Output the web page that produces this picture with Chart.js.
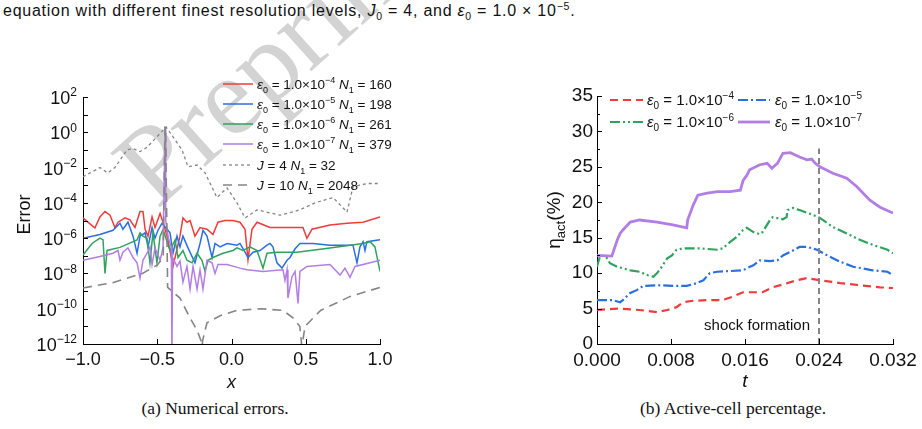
<!DOCTYPE html>
<html>
<head>
<meta charset="utf-8">
<title>Numerical errors and active-cell percentage</title>
<script src="https://cdn.jsdelivr.net/npm/chart.js@4.4.1/dist/chart.umd.min.js"></script>
<style>
  html, body { margin: 0; padding: 0; background: #fff; }
  body { width: 922px; height: 429px; position: relative; overflow: hidden; }
  .caption-top {
    position: absolute; left: 3px; top: 2px; white-space: nowrap; color: #111; z-index: 2;
    font-family: 'Liberation Sans', Arial, sans-serif; font-size: 16px; letter-spacing: 0.75px;
  }
  .caption-top sub, .caption-top sup { font-size: 10.5px; line-height: 0; }
  .subcap {
    position: absolute; top: 398px; color: #111; white-space: nowrap; transform: translateX(-50%);
    font-family: 'Liberation Serif', 'Times New Roman', serif; font-size: 17.5px;
  }
  .watermark {
    position: absolute; left: 157px; top: 116px; z-index: 0;
    font-family: 'Liberation Serif', serif; font-size: 112px; line-height: 1;
    color: #d3d3d3; transform-origin: 0 94px; transform: rotate(-42deg);
  }
  canvas { position: absolute; top: 60px; z-index: 1; }
  #errorChart { left: 0; }
  #activeChart { left: 520px; }
</style>
</head>
<body>
<div class="caption-top">equation with different finest resolution levels, <i>J</i><sub>0</sub> = 4, and <i>ε</i><sub>0</sub> = 1.0 × 10<sup>−5</sup>.</div>
<div class="watermark">Preprint</div>
<canvas id="errorChart" width="400" height="340"></canvas>
<canvas id="activeChart" width="402" height="340"></canvas>
<div class="subcap" style="left:215px">(a) Numerical errors.</div>
<div class="subcap" style="left:733px">(b) Active-cell percentage.</div>

<script>
// ---- (a) numerical errors, x in [-1, 1] ----
const xEps4 = [-1.0,-0.92,-0.886,-0.852,-0.818,-0.785,-0.764,-0.717,-0.684,-0.65,-0.616,-0.596,-0.582,-0.562,-0.535,-0.515,-0.481,-0.461,-0.428,-0.394,-0.347,-0.327,-0.3,-0.279,-0.246,-0.212,-0.165,-0.125,-0.091,-0.044,0.01,0.057,0.091,0.111,0.138,0.172,0.259,0.441,0.481,0.508,0.542,0.663,0.778,0.886,1.0];
const errEps4 = [1.4e-5,3.7e-6,1.6e-5,3.2e-5,2e-5,4e-6,8e-6,1.4e-5,1.1e-5,4e-6,3.2e-5,3.2e-5,3.2e-6,1.3e-6,1.6e-5,4e-6,2.5e-5,8e-6,8e-7,2.5e-8,1.3e-6,1.4e-5,8e-6,1e-5,1.3e-6,4e-6,3.2e-6,1.6e-6,8e-6,1e-5,1e-5,8e-6,3.2e-6,6e-8,3.2e-6,8e-6,4e-6,4e-6,4e-6,1e-6,3.2e-6,5.6e-6,7e-6,8e-6,1.6e-5];

const xEps5 = [-1.0,-0.886,-0.798,-0.751,-0.731,-0.697,-0.663,-0.636,-0.616,-0.582,-0.562,-0.535,-0.515,-0.495,-0.468,-0.414,-0.394,-0.367,-0.347,-0.327,-0.293,-0.246,-0.212,-0.192,-0.165,-0.131,-0.111,-0.077,-0.03,0.037,0.057,0.091,0.111,0.145,0.192,0.239,0.259,0.279,0.306,0.34,0.374,0.394,0.428,0.461,0.549,0.663,0.818,0.845,0.865,0.886,0.899,0.912,1.0];
const errEps5 = [1e-6,1.6e-6,2.8e-6,7e-6,3.2e-6,8e-6,1.3e-6,1.4e-7,1.3e-6,2e-6,3.2e-7,4e-6,1e-6,2.8e-6,7e-6,2e-6,1.4e-7,1.3e-6,3.2e-7,1.3e-6,2.8e-7,4e-8,5e-7,2.8e-6,1.3e-6,8e-8,5e-7,3.2e-7,5e-7,4e-7,5e-7,1.6e-7,8e-8,1.6e-7,2e-7,4e-7,5e-7,3.2e-7,4e-8,2e-8,5.6e-8,8e-8,2.5e-7,5e-7,5e-7,4e-7,4e-7,4e-8,3.2e-7,6.3e-7,2e-7,6.3e-7,8e-7];

const xEps6 = [-1.0,-0.939,-0.886,-0.865,-0.852,-0.838,-0.751,-0.636,-0.616,-0.596,-0.569,-0.549,-0.529,-0.502,-0.481,-0.461,-0.414,-0.38,-0.36,-0.327,-0.3,-0.266,-0.232,-0.199,-0.178,-0.158,-0.125,-0.057,0.01,0.037,0.077,0.124,0.172,0.212,0.239,0.306,0.441,0.663,0.886,0.933,0.966,1.0];
const errEps6 = [1.1e-7,5e-7,1e-6,8e-7,1e-8,2e-7,3e-7,8e-7,2e-6,1.3e-6,1e-6,4e-8,2e-6,4e-8,1.3e-6,3e-6,2e-7,8e-7,8e-8,2e-7,5.6e-8,4e-8,1.4e-7,5.6e-8,1.3e-8,5.6e-8,8e-8,1.4e-7,2e-7,2.8e-7,2e-7,3.2e-7,2e-7,2e-8,1.4e-7,1.6e-7,1.6e-7,2.8e-7,5e-7,6.3e-7,3.2e-7,1.3e-8];

const xEps7 = [-1.0,-0.886,-0.798,-0.764,-0.751,-0.731,-0.697,-0.663,-0.636,-0.616,-0.596,-0.569,-0.549,-0.535,-0.515,-0.481,-0.461,-0.447,-0.443,-0.425,-0.405,-0.401,-0.397,-0.367,-0.347,-0.327,-0.3,-0.279,-0.259,-0.232,-0.212,-0.192,-0.165,-0.131,-0.111,-0.091,-0.03,0.057,0.104,0.212,0.347,0.36,0.374,0.38,0.407,0.428,0.448,0.461,0.508,0.663,0.731,0.764,0.798,0.832,0.933,1.0];
const errEps7 = [5.6e-8,9e-8,1.4e-7,2e-7,5.6e-8,1.6e-7,2.8e-7,8e-8,4e-8,5.5e-9,5.6e-8,1.4e-7,3.2e-7,3.2e-8,2.8e-7,5.6e-8,2.8e-7,2,1e-5,1e-6,3e-7,1e-13,8e-8,2.5e-8,5e-8,3.2e-9,2.5e-8,1.3e-9,2.5e-8,1.3e-9,1.6e-8,1.3e-9,5.6e-8,4e-8,1e-8,3.2e-8,3.2e-8,2e-8,1.6e-8,1.3e-8,1.6e-8,4e-9,1.6e-8,4e-10,6.3e-9,1.3e-8,2e-10,1.3e-8,2.5e-8,3.2e-8,8e-9,2e-8,6e-9,2.5e-8,4e-8,5.6e-8];

const xJ4 = [-1.0,-0.886,-0.832,-0.785,-0.704,-0.663,-0.616,-0.569,-0.44,-0.333,-0.293,-0.232,-0.178,-0.098,-0.03,0.037,0.091,0.172,0.327,0.461,0.562,0.684,0.778,0.818,0.912,1.0];
const errJ4 = [3e-3,1e-2,5e-3,1e-2,1e-1,1.2e-1,8e-2,1.4e-1,2,1e-1,1.1e-2,1.4e-2,5e-3,2e-4,7e-4,1e-4,1.4e-5,4e-5,2e-5,4e-5,1e-4,2e-4,3e-5,8e-4,1.25e-3,1.25e-3];

const xJ10 = [-1.0,-0.8,-0.6,-0.5,-0.46,-0.448,-0.444,-0.43,-0.347,-0.279,-0.232,-0.205,-0.2,-0.195,-0.165,-0.077,0.037,0.2,0.347,0.414,0.46,0.47,0.475,0.48,0.495,0.6,0.8,1.0];
const errJ10 = [1.5e-9,3e-9,1e-8,3e-8,8e-8,2,2,1.6e-9,4e-10,3e-11,6e-12,1.5e-12,3e-13,1.5e-12,1.6e-11,4e-11,8e-11,1e-10,8e-11,3e-11,1e-11,1.5e-12,3e-13,1.5e-12,1e-11,8e-11,5e-10,1.6e-9];

const errXTicks = [-1.0, -0.5, 0.0, 0.5, 1.0];
const errDecades = [-12, -11, -10, -9, -8, -7, -6, -5, -4, -3, -2, -1, 0, 1, 2];

// ---- (b) active-cell percentage over t ----
const tEps4 = [0,0.0022,0.0046,0.0065,0.0076,0.0086,0.0093,0.0104,0.0122,0.0136,0.0147,0.0158,0.0169,0.0179,0.019,0.0201,0.0216,0.0227,0.0241,0.0263,0.0284,0.0306,0.032];
const actEps4 = [4.8,5.0,4.8,4.5,4.8,5.2,5.9,6.1,6.2,6.2,6.7,7.3,7.3,7.3,8.0,8.4,9.0,9.3,9.0,8.6,8.3,8.0,7.9];

const tEps5 = [0,0.0017,0.0025,0.0028,0.0036,0.0043,0.005,0.0065,0.0082,0.0097,0.0108,0.0115,0.0122,0.013,0.0144,0.0158,0.0162,0.0169,0.0176,0.0187,0.0195,0.0201,0.0209,0.0219,0.0227,0.0238,0.0249,0.0263,0.0277,0.0298,0.0314,0.032];
const actEps5 = [6.2,6.2,5.9,6.2,7.2,7.6,8.2,8.3,8.2,8.2,8.6,9.0,10.0,10.2,10.3,10.4,10.7,11.1,11.8,11.7,11.8,12.5,13.0,13.7,13.7,13.3,12.5,11.6,10.9,10.4,10.2,9.7];

const tEps6 = [0,0.0003,0.0009,0.0014,0.0022,0.0036,0.0046,0.0055,0.0061,0.0065,0.007,0.0076,0.0081,0.0086,0.0093,0.0111,0.013,0.0136,0.0144,0.0151,0.0158,0.0162,0.0169,0.0176,0.0179,0.0187,0.019,0.0201,0.0205,0.0206,0.0212,0.0219,0.0234,0.0241,0.0255,0.027,0.0284,0.0298,0.0314,0.032];
const actEps6 = [10.9,12.3,12.5,11.4,10.9,10.4,10.2,9.7,9.5,10.0,10.9,12.1,12.5,13.3,13.5,13.5,13.3,13.5,14.4,15.1,16.1,16.4,15.8,15.5,15.8,17.5,17.9,17.6,17.9,18.9,19.2,18.9,18.2,17.8,16.5,15.6,14.7,14.0,13.3,12.8];

const tEps7 = [0,0.0016,0.0022,0.0025,0.0028,0.0036,0.0046,0.0065,0.0082,0.0097,0.0098,0.0104,0.0109,0.0119,0.013,0.0144,0.0155,0.0158,0.0162,0.0165,0.0176,0.0184,0.0189,0.0195,0.0198,0.0201,0.0209,0.0219,0.0227,0.0232,0.0236,0.0241,0.0255,0.027,0.0281,0.0295,0.0306,0.0318,0.032];
const actEps7 = [12.5,12.4,14.7,15.6,16.1,17.2,17.5,17.2,16.8,16.4,17.5,19.6,21.0,21.3,21.5,21.5,21.7,23.1,23.8,24.6,25.3,25.5,24.8,25.5,26.2,26.9,27.0,26.4,26.0,26.1,25.5,25.0,24.1,23.4,22.2,20.3,19.3,18.6,18.5];

const shockT = 0.024;
const shockTop = 27.6;
const actXTicks = [0, 0.008, 0.016, 0.024, 0.032];
const actYTicks = [0, 2.5, 5, 7.5, 10, 12.5, 15, 17.5, 20, 22.5, 25, 27.5, 30, 32.5, 35];

// ---- styling ----
const FONT = "'Liberation Sans', Arial, sans-serif";
const RED = '#ee3b3b';
const BLUE = '#2a6fe0';
const GREEN = '#2fa35e';
const PURPLE = '#b27ee4';
const GREY = '#858585';

Chart.defaults.color = '#111';
Chart.defaults.font.family = FONT;
Chart.defaults.animation = false;

function zipPoints(xs, ys) {
    return xs.map((x, i) => ({ x: x, y: ys[i] }));
}

function epsParts(k) {
    return [['ε', 'i'], ['0', 'sub'], [' = 1.0×10', 'n'], ['−' + k, 'sup']];
}

// draw a run of text pieces: normal, italic, subscript, superscript
function drawRich(ctx, x, y, parts, size, measureOnly) {
    let cx = x;
    ctx.textAlign = 'left';
    ctx.textBaseline = 'alphabetic';
    for (const [txt, kind] of parts) {
        const small = kind === 'sub' || kind === 'sup';
        const fs = small ? Math.round(size * 0.68) : size;
        ctx.font = (kind === 'i' ? 'italic ' : '') + fs + 'px ' + FONT;
        const dy = kind === 'sub' ? size * 0.28 : (kind === 'sup' ? -size * 0.42 : 0);
        if (!measureOnly) ctx.fillText(txt, cx, y + dy);
        cx += ctx.measureText(txt).width;
    }
    return cx - x;
}

function drawSample(ctx, ds, x0, x1, y) {
    ctx.save();
    ctx.strokeStyle = ds.borderColor;
    ctx.lineWidth = ds.borderWidth;
    ctx.setLineDash(ds.borderDash || []);
    ctx.beginPath();
    ctx.moveTo(x0, y);
    ctx.lineTo(x1, y);
    ctx.stroke();
    ctx.restore();
}

// inward tick marks on the left and bottom axes
function drawInwardTicks(chart, xVals, yVals, isMajorY) {
    const { ctx, chartArea } = chart;
    const xs = chart.scales.x, ys = chart.scales.y;
    ctx.save();
    ctx.strokeStyle = '#000';
    ctx.lineWidth = 1;
    ctx.beginPath();
    xVals.forEach(v => {
        const px = Math.round(xs.getPixelForValue(v)) + 0.5;
        ctx.moveTo(px, chartArea.bottom);
        ctx.lineTo(px, chartArea.bottom - 5);
    });
    yVals.forEach(v => {
        const py = Math.round(ys.getPixelForValue(v)) + 0.5;
        ctx.moveTo(chartArea.left, py);
        ctx.lineTo(chartArea.left + (isMajorY(v) ? 5 : 3), py);
    });
    ctx.stroke();
    ctx.restore();
}

const errorDecor = {
    id: 'errorDecor',
    afterDraw(chart) {
        const { ctx, chartArea } = chart;
        const ys = chart.scales.y;
        drawInwardTicks(chart, errXTicks, errDecades.map(d => Math.pow(10, d)), v => true);

        // 10^n labels on the even decades
        ctx.save();
        ctx.fillStyle = '#111';
        errDecades.filter(d => d % 2 === 0).forEach(d => {
            const py = ys.getPixelForValue(Math.pow(10, d));
            const parts = [['10', 'n'], [d < 0 ? '−' + (-d) : String(d), 'sup']];
            const w = drawRich(ctx, 0, 0, parts, 18, true);
            drawRich(ctx, chartArea.left - 6 - w, py + 7, parts, 18);
        });

        // axis titles
        ctx.font = '18px ' + FONT;
        ctx.textAlign = 'center';
        ctx.textBaseline = 'middle';
        ctx.save();
        ctx.translate(25, (chartArea.top + chartArea.bottom) / 2 - 6);
        ctx.rotate(-Math.PI / 2);
        ctx.fillText('Error', 0, 0);
        ctx.restore();
        ctx.font = 'italic 18px ' + FONT;
        ctx.fillText('x', (chartArea.left + chartArea.right) / 2, 323);

        // legend
        const rows = [
            [0, epsParts(4).concat([[' ', 'n'], ['N', 'i'], ['1', 'sub'], [' = 160', 'n']])],
            [1, epsParts(5).concat([[' ', 'n'], ['N', 'i'], ['1', 'sub'], [' = 198', 'n']])],
            [2, epsParts(6).concat([[' ', 'n'], ['N', 'i'], ['1', 'sub'], [' = 261', 'n']])],
            [3, epsParts(7).concat([[' ', 'n'], ['N', 'i'], ['1', 'sub'], [' = 379', 'n']])],
            [4, [['J', 'i'], [' = 4 ', 'n'], ['N', 'i'], ['1', 'sub'], [' = 32', 'n']]],
            [5, [['J', 'i'], [' = 10 ', 'n'], ['N', 'i'], ['1', 'sub'], [' = 2048', 'n']]]
        ];
        const rowY = [24, 44, 64, 84, 105, 125];
        rows.forEach(([idx, parts], i) => {
            drawSample(ctx, chart.data.datasets[idx], 223, 253, rowY[i]);
            ctx.fillStyle = '#111';
            drawRich(ctx, 257, rowY[i] + 5, parts, 13.5);
        });
        ctx.restore();
    }
};

const activeDecor = {
    id: 'activeDecor',
    afterDraw(chart) {
        const { ctx, chartArea } = chart;
        const xs = chart.scales.x, ys = chart.scales.y;
        drawInwardTicks(chart, actXTicks, actYTicks, v => v % 5 === 0);

        ctx.save();
        ctx.fillStyle = '#111';
        // y title: eta_act(%)
        const yParts = [['η', 'n'], ['act', 'sub'], ['(%)', 'n']];
        const w = drawRich(ctx, 0, 0, yParts, 19, true);
        ctx.save();
        ctx.translate(34, (chartArea.top + chartArea.bottom) / 2);
        ctx.rotate(-Math.PI / 2);
        drawRich(ctx, -w / 2, 6, yParts, 19);
        ctx.restore();

        ctx.font = 'italic 19px ' + FONT;
        ctx.textAlign = 'center';
        ctx.textBaseline = 'middle';
        ctx.fillText('t', (chartArea.left + chartArea.right) / 2, 322);

        // annotation next to the dashed line
        ctx.font = '15px ' + FONT;
        ctx.textAlign = 'right';
        ctx.fillText('shock formation', xs.getPixelForValue(shockT) - 9, ys.getPixelForValue(2.5));

        // legend, two columns
        const items = [
            [0, 90, 123, 127, 40, epsParts(4)],
            [1, 218, 250, 255, 40, epsParts(5)],
            [2, 90, 123, 127, 62, epsParts(6)],
            [3, 218, 250, 255, 62, epsParts(7)]
        ];
        items.forEach(([idx, x0, x1, tx, y, parts]) => {
            drawSample(ctx, chart.data.datasets[idx], x0, x1, y);
            ctx.fillStyle = '#111';
            drawRich(ctx, tx, y + 5, parts, 15);
        });
        ctx.restore();
    }
};

function lineSet(label, data, color, width, dash, order) {
    return {
        label: label, data: data, borderColor: color, backgroundColor: color,
        borderWidth: width, borderDash: dash, pointRadius: 0, tension: 0, fill: false, order: order
    };
}

function buildErrorChart() {
    const ctx = document.getElementById('errorChart').getContext('2d');
    return new Chart(ctx, {
        type: 'line',
        data: {
            datasets: [
                lineSet('eps4', zipPoints(xEps4, errEps4), RED, 1.5, [], 5),
                lineSet('eps5', zipPoints(xEps5, errEps5), BLUE, 1.5, [], 4),
                lineSet('eps6', zipPoints(xEps6, errEps6), GREEN, 1.5, [], 3),
                lineSet('eps7', zipPoints(xEps7, errEps7), PURPLE, 1.5, [], 2),
                lineSet('J4', zipPoints(xJ4, errJ4), GREY, 1.3, [3, 3], 1),
                lineSet('J10', zipPoints(xJ10, errJ10), GREY, 1.6, [9, 6], 0)
            ]
        },
        options: {
            responsive: false,
            layout: { padding: { top: 37, right: 20, left: 0, bottom: 0 } },
            plugins: { legend: { display: false }, tooltip: { enabled: false } },
            scales: {
                x: {
                    type: 'linear', min: -1, max: 1,
                    afterBuildTicks: s => { s.ticks = errXTicks.map(v => ({ value: v })); },
                    afterFit: s => { s.height = 56; },
                    grid: { drawOnChartArea: false, drawTicks: false },
                    border: { color: '#000', width: 1 },
                    ticks: {
                        padding: 5, font: { size: 18 }, maxRotation: 0,
                        callback: v => (v < 0 ? '−' + Math.abs(v).toFixed(1) : v.toFixed(1))
                    }
                },
                y: {
                    type: 'logarithmic', min: 1e-12, max: 1e2,
                    afterBuildTicks: s => { s.ticks = errDecades.map(d => ({ value: Math.pow(10, d) })); },
                    afterFit: s => { s.width = 83; },
                    grid: { drawOnChartArea: false, drawTicks: false },
                    border: { color: '#000', width: 1 },
                    ticks: { display: false }
                }
            }
        },
        plugins: [errorDecor]
    });
}

function buildActiveChart() {
    const ctx = document.getElementById('activeChart').getContext('2d');
    return new Chart(ctx, {
        type: 'line',
        data: {
            datasets: [
                lineSet('eps4', zipPoints(tEps4, actEps4), RED, 2.2, [8, 5], 4),
                lineSet('eps5', zipPoints(tEps5, actEps5), BLUE, 2.2, [10, 3, 2, 3], 3),
                lineSet('eps6', zipPoints(tEps6, actEps6), GREEN, 2.2, [10, 3, 2, 3, 2, 3], 2),
                lineSet('eps7', zipPoints(tEps7, actEps7), PURPLE, 2.8, [], 1),
                lineSet('shock', [{ x: shockT, y: 0 }, { x: shockT, y: shockTop }], GREY, 2, [6, 4], 0)
            ]
        },
        options: {
            responsive: false,
            layout: { padding: { top: 36, right: 29, left: 0, bottom: 0 } },
            plugins: { legend: { display: false }, tooltip: { enabled: false } },
            scales: {
                x: {
                    type: 'linear', min: 0, max: 0.032,
                    afterBuildTicks: s => { s.ticks = actXTicks.map(v => ({ value: v })); },
                    afterFit: s => { s.height = 56; },
                    grid: { drawOnChartArea: false, drawTicks: false },
                    border: { color: '#000', width: 1 },
                    ticks: { padding: 5, font: { size: 19 }, maxRotation: 0, callback: v => v.toFixed(3) }
                },
                y: {
                    type: 'linear', min: 0, max: 35,
                    afterBuildTicks: s => { s.ticks = actYTicks.map(v => ({ value: v })); },
                    afterFit: s => { s.width = 77; },
                    grid: { drawOnChartArea: false, drawTicks: false },
                    border: { color: '#000', width: 1 },
                    ticks: { padding: 4, font: { size: 19 }, callback: v => (v % 5 === 0 ? String(v) : '') }
                }
            }
        },
        plugins: [activeDecor]
    });
}

buildErrorChart();
buildActiveChart();
</script>
</body>
</html>
